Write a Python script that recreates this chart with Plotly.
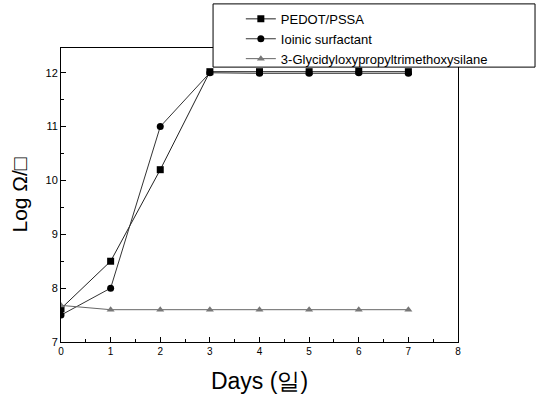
import plotly.graph_objects as go

days = [0, 1, 2, 3, 4, 5, 6, 7]
pedot = [7.62, 8.5, 10.2, 12.02, 12.02, 12.02, 12.03, 12.02]
ionic = [7.5, 8.0, 11.0, 12.0, 11.99, 11.99, 12.0, 11.99]
glycidyl = [7.68, 7.6, 7.6, 7.6, 7.6, 7.6, 7.6, 7.6]

fig = go.Figure()
fig.add_trace(go.Scatter(x=days, y=pedot, mode="lines+markers", name="PEDOT/PSSA",
                         line=dict(color="#222", width=1),
                         marker=dict(symbol="square", size=7, color="black")))
fig.add_trace(go.Scatter(x=days, y=ionic, mode="lines+markers", name="Ioinic surfactant",
                         line=dict(color="#333", width=1),
                         marker=dict(symbol="circle", size=7, color="black")))
fig.add_trace(go.Scatter(x=days, y=glycidyl, mode="lines+markers", name="3-Glycidyloxypropyltrimethoxysilane",
                         line=dict(color="#666", width=1),
                         marker=dict(symbol="triangle-up", size=7, color="#777")))

# legend frame
fig.add_shape(type="rect", xref="paper", yref="paper",
              x0=0.383, x1=1.194, y0=0.935, y1=1.150,
              line=dict(color="black", width=1), fillcolor="white", layer="above")

fig.update_layout(
    width=536, height=401,
    margin=dict(l=61, r=78, t=48, b=59, autoexpand=False),
    paper_bgcolor="white", plot_bgcolor="white",
    font=dict(family="Liberation Sans, Arial, sans-serif", color="black"),
    showlegend=True,
    legend=dict(x=0.453, y=1.15, xanchor="left", yanchor="top",
                borderwidth=0, bgcolor="rgba(0,0,0,0)",
                font=dict(size=13), tracegroupgap=0, itemwidth=30),
    xaxis=dict(range=[0, 8], tickvals=[0, 1, 2, 3, 4, 5, 6, 7, 8],
               showline=True, linecolor="black", linewidth=1, mirror=True,
               ticks="inside", ticklen=5, tickcolor="black", showgrid=False, zeroline=False,
               minor=dict(ticks="inside", ticklen=3, dtick=0.5, tickcolor="black"),
               tickfont=dict(size=10),
               title=dict(text="Days (일)", font=dict(size=23), standoff=16)),
    yaxis=dict(range=[7, 12.46], tickvals=[7, 8, 9, 10, 11, 12],
               showline=True, linecolor="black", linewidth=1, mirror=True,
               ticks="inside", ticklen=5, tickcolor="black", showgrid=False, zeroline=False,
               minor=dict(ticks="inside", ticklen=3, dtick=0.5, tickcolor="black"),
               tickfont=dict(size=11),
               title=dict(text="Log Ω/□", font=dict(size=21), standoff=12)),
)

fig.write_html("out.html")
